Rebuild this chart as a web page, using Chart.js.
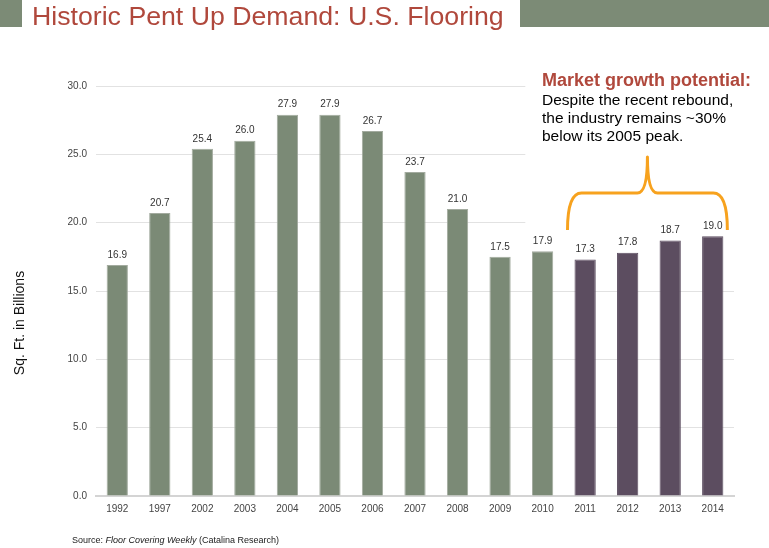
<!DOCTYPE html>
<html>
<head>
<meta charset="utf-8">
<script src="https://cdn.jsdelivr.net/npm/chart.js@4.4.1/dist/chart.umd.min.js"></script>
<style>
  html, body { margin: 0; padding: 0; background: #fff; }
  #wrap { position: relative; width: 769px; height: 548px; overflow: hidden; }
  .bar-left { position: absolute; left: 0; top: 0; width: 22px; height: 27px; background: #7c8b76; }
  .bar-right { position: absolute; left: 520px; top: 0; width: 249px; height: 27px; background: #7c8b76; }
  .title { position: absolute; left: 32px; top: 1px; font-family: 'Liberation Sans', Arial, sans-serif;
           font-size: 26.7px; color: #b0483c; white-space: nowrap; }
  canvas { position: absolute; left: 0; top: 0; }
</style>
</head>
<body>
<div id="wrap">
  <canvas id="chart" width="769" height="548"></canvas>
  <div class="bar-left"></div>
  <div class="bar-right"></div>
  <div class="title">Historic Pent Up Demand: U.S. Flooring</div>
</div>
<script>
const years = ['1992', '1997', '2002', '2003', '2004', '2005', '2006', '2007', '2008', '2009', '2010', '2011', '2012', '2013', '2014'];
const demand = [16.9, 20.7, 25.4, 26.0, 27.9, 27.9, 26.7, 23.7, 21.0, 17.5, 17.9, 17.3, 17.8, 18.7, 19.0];
const yTicks = [0, 5, 10, 15, 20, 25, 30];
const firstRecent = 11; // 2011 onward drawn in purple

const GREEN = '#7b8a76';
const PURPLE = '#5c4d60';
const FONT = "'Liberation Sans', Arial, sans-serif";

// annotation box, bracket and value labels
const extras = {
  id: 'extras',
  beforeDatasetsDraw(chart) {
    const { ctx, scales: { x, y } } = chart;
    // white box behind the note hides the gridlines there
    const left = (x.getPixelForValue(9) + x.getPixelForValue(10)) / 2 + 4;
    ctx.save();
    ctx.fillStyle = '#fff';
    ctx.fillRect(left, 0, chart.width - left, y.getPixelForValue(18.5));
    ctx.restore();
  },
  afterDatasetsDraw(chart) {
    const { ctx, scales: { x, y } } = chart;
    const meta = chart.getDatasetMeta(0);
    ctx.save();
    ctx.font = '10px ' + FONT;
    ctx.fillStyle = '#333';
    ctx.textAlign = 'center';
    ctx.textBaseline = 'bottom';
    meta.data.forEach((bar, i) => {
      ctx.fillText(demand[i].toFixed(1), bar.x, bar.y - 5);
    });

    // bracket over 2011-2014
    const bw = meta.data[0].width;
    const x0 = x.getPixelForValue(firstRecent) - bw / 2 - 7;
    const x1 = x.getPixelForValue(years.length - 1) + bw / 2 + 4;
    const xm = (x0 + x1) / 2;
    const yb = 230, yh = 193, yt = 157, r = 14;
    ctx.strokeStyle = '#f7a21e';
    ctx.lineWidth = 3;
    ctx.lineJoin = 'round';
    ctx.beginPath();
    ctx.moveTo(x0, yb);
    ctx.quadraticCurveTo(x0, yh, x0 + r, yh);
    ctx.lineTo(xm - 10, yh);
    ctx.quadraticCurveTo(xm, yh, xm, yt);
    ctx.quadraticCurveTo(xm, yh, xm + 10, yh);
    ctx.lineTo(x1 - r, yh);
    ctx.quadraticCurveTo(x1, yh, x1, yb);
    ctx.stroke();

    // note text
    ctx.textAlign = 'left';
    ctx.textBaseline = 'middle';
    ctx.fillStyle = '#b0483c';
    ctx.font = 'bold 18px ' + FONT;
    ctx.fillText('Market growth potential:', 542, 81);
    ctx.fillStyle = '#000';
    ctx.font = '15.5px ' + FONT;
    ctx.fillText('Despite the recent rebound,', 542, 101);
    ctx.fillText('the industry remains ~30%', 542, 119);
    ctx.fillText('below its 2005 peak.', 542, 137);

    // y axis title
    ctx.save();
    ctx.translate(20, 323);
    ctx.rotate(-Math.PI / 2);
    ctx.textAlign = 'center';
    ctx.font = '14px ' + FONT;
    ctx.fillStyle = '#111';
    ctx.fillText('Sq. Ft. in Billions', 0, 0);
    ctx.restore();

    // source line
    ctx.textBaseline = 'alphabetic';
    ctx.fillStyle = '#222';
    let sx = 72;
    const parts = [['Source: ', ''], ['Floor Covering Weekly', 'italic '], [' (Catalina Research)', '']];
    parts.forEach(([t, style]) => {
      ctx.font = style + '9px ' + FONT;
      ctx.fillText(t, sx, 543);
      sx += ctx.measureText(t).width;
    });
    ctx.restore();
  }
};

new Chart(document.getElementById('chart').getContext('2d'), {
  type: 'bar',
  data: {
    labels: years,
    datasets: [{
      data: demand,
      backgroundColor: demand.map((v, i) => i >= firstRecent ? PURPLE : GREEN),
      borderColor: demand.map((v, i) => i >= firstRecent ? PURPLE : '#a3ab9f'),
      borderWidth: 1,
      barPercentage: 0.5,
      categoryPercentage: 1.0
    }]
  },
  options: {
    responsive: false,
    animation: false,
    devicePixelRatio: 1,
    layout: { padding: { left: 0, right: 35, top: 86, bottom: 0 } },
    plugins: { legend: { display: false }, tooltip: { enabled: false } },
    scales: {
      x: {
        grid: { display: false, drawTicks: false },
        border: { color: '#d4d4d4', width: 2 },
        ticks: { padding: 7, color: '#444', font: { family: FONT, size: 10 } },
        afterFit(scale) { scale.height = 52; }
      },
      y: {
        min: 0,
        max: 30,
        afterBuildTicks(scale) { scale.ticks = yTicks.map(v => ({ value: v })); },
        grid: { color: '#e2e2e2', lineWidth: 1, drawTicks: false },
        border: { display: false },
        ticks: {
          padding: 9,
          color: '#444',
          font: { family: FONT, size: 10 },
          callback: v => v.toFixed(1)
        },
        afterFit(scale) { scale.width = 96; }
      }
    }
  },
  plugins: [extras]
});
</script>
</body>
</html>
